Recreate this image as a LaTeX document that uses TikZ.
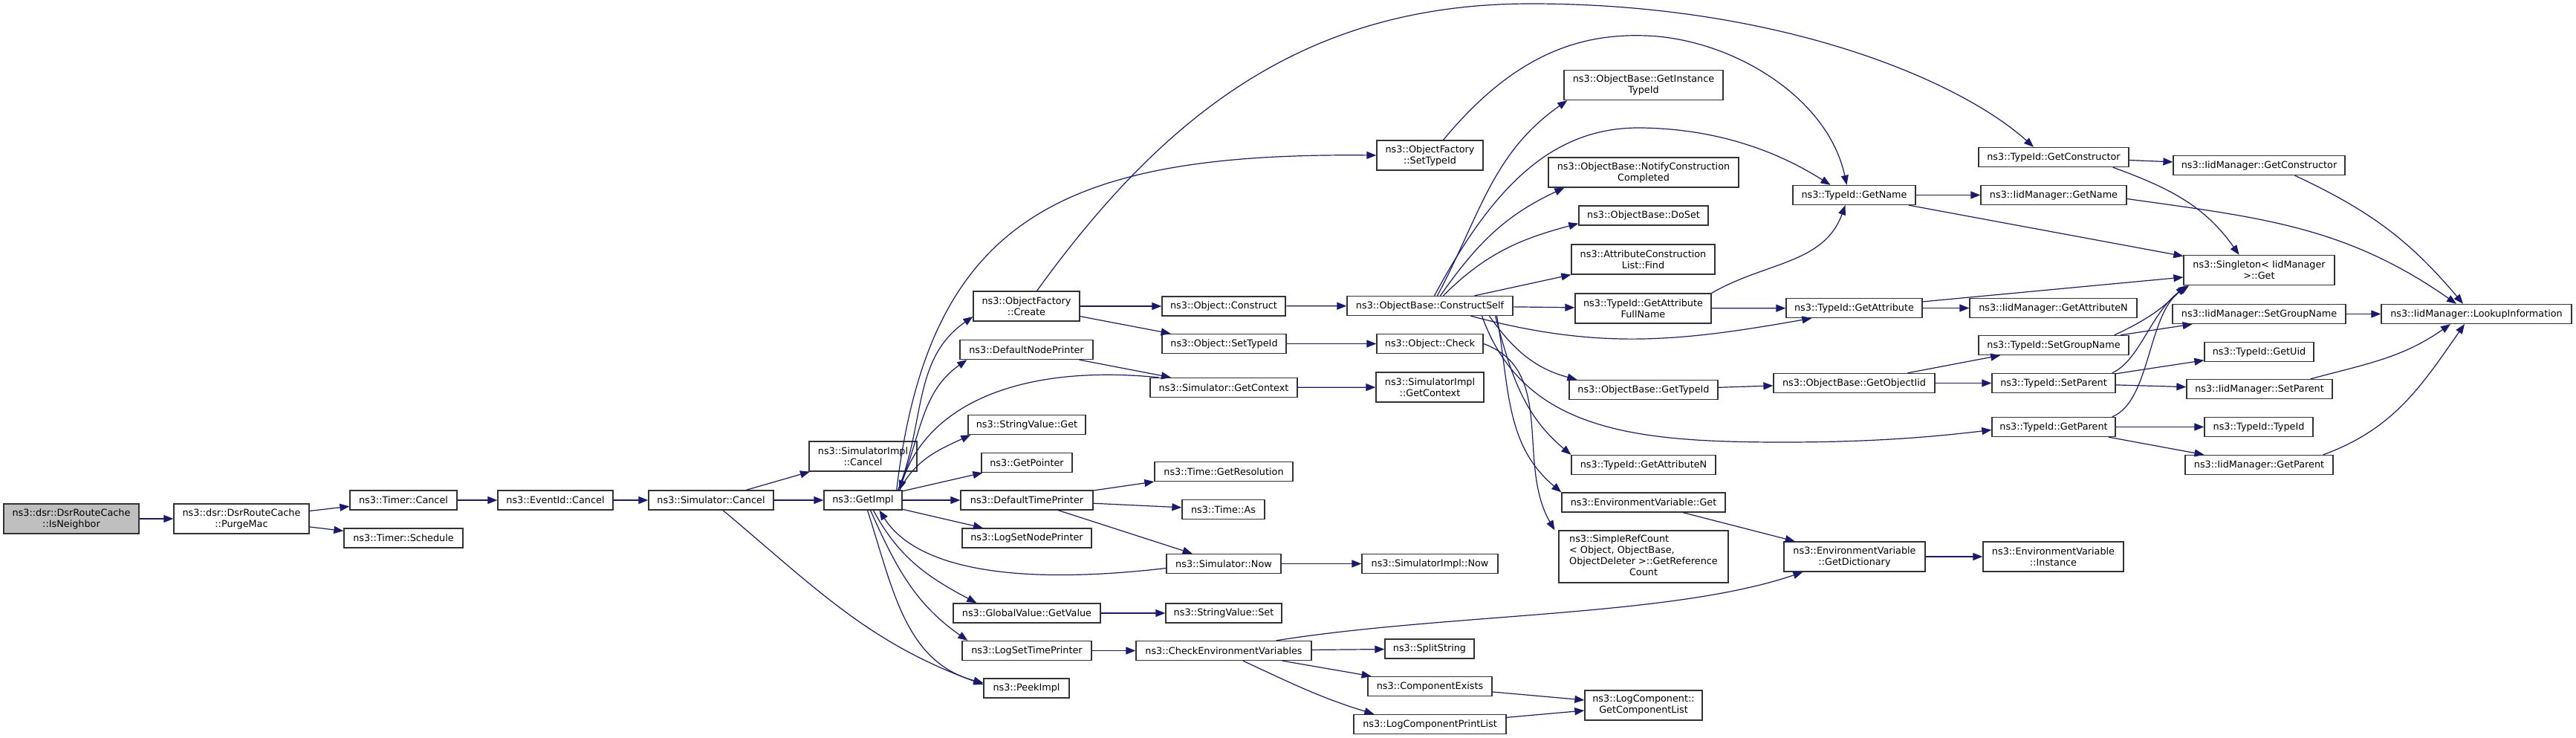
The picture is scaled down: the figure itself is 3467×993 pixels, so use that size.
\documentclass[tikz,border=0pt]{standalone}
\usepackage{fontspec}
\newfontfamily\dejavu{DejaVu Sans}
\usetikzlibrary{arrows.meta}
\definecolor{edgeblue}{RGB}{25,25,112}
\definecolor{boxgray}{RGB}{191,191,191}
\newcommand*{\fnfont}{\dejavu\fontsize{12.8}{15}\selectfont}

\begin{document}
\begin{tikzpicture}[x=1pt, y=1pt, >={Triangle[length=13pt,width=10pt]},
    fn/.style={draw=black!80, line width=1.3pt, fill=white, inner sep=0pt,
      minimum height=26pt, align=center, font=\fnfont},
    bw/.style={minimum width=#1pt},
    two/.style={minimum height=40pt},
    every edge/.style={draw=edgeblue, line width=1.2pt},
    call/.style={draw=edgeblue, line width=1.2pt}]
  \useasboundingbox (0,0) rectangle (3467,-993);

  % caller chain
  \node[fn, bw=182, two, fill=boxgray] (isn) at (96,-698) {ns3::dsr::DsrRouteCache\\::IsNeighbor};
  \node[fn, bw=182, two] (purge) at (325,-698) {ns3::dsr::DsrRouteCache\\::PurgeMac};
  \node[fn, bw=144] (tcancel) at (543,-673) {ns3::Timer::Cancel};
  \node[fn, bw=160] (tsched) at (543,-724) {ns3::Timer::Schedule};
  \node[fn, bw=155] (evcancel) at (747.5,-673) {ns3::EventId::Cancel};
  \node[fn, bw=168] (simcancel) at (957,-673) {ns3::Simulator::Cancel};
  \node[fn, bw=145, two] (implcancel) at (1161.5,-614) {ns3::SimulatorImpl\\::Cancel};
  \node[fn, bw=105] (getimpl) at (1161.5,-673) {ns3::GetImpl};

  % callees of GetImpl
  \node[fn, bw=143, two] (ofcreate) at (1381.5,-412) {ns3::ObjectFactory\\::Create};
  \node[fn, bw=179] (dnp) at (1381.5,-470.5) {ns3::DefaultNodePrinter};
  \node[fn, bw=158] (svget) at (1382,-571.5) {ns3::StringValue::Get};
  \node[fn, bw=122] (getptr) at (1382,-622.5) {ns3::GetPointer};
  \node[fn, bw=178] (dtp) at (1382,-673) {ns3::DefaultTimePrinter};
  \node[fn, bw=174] (lsnp) at (1382,-724) {ns3::LogSetNodePrinter};
  \node[fn, bw=198] (gvget) at (1382,-825) {ns3::GlobalValue::GetValue};
  \node[fn, bw=174] (lstp) at (1382,-875.5) {ns3::LogSetTimePrinter};
  \node[fn, bw=115] (peek) at (1381.5,-926) {ns3::PeekImpl};

  \node[fn, bw=166] (oconstruct) at (1647,-412) {ns3::Object::Construct};
  \node[fn, bw=167] (osettid) at (1647.5,-462.5) {ns3::Object::SetTypeId};
  \node[fn, bw=198] (simctx) at (1647,-521.5) {ns3::Simulator::GetContext};
  \node[fn, bw=186] (tres) at (1647,-634.5) {ns3::Time::GetResolution};
  \node[fn, bw=111] (tas) at (1646.5,-685.5) {ns3::Time::As};
  \node[fn, bw=154] (simnow) at (1647,-758.5) {ns3::Simulator::Now};
  \node[fn, bw=156] (svset) at (1647,-825) {ns3::StringValue::Set};
  \node[fn, bw=236] (checkenv) at (1647,-875.5) {ns3::CheckEnvironmentVariables};

  \node[fn, bw=143, two] (ofsettid) at (1924.5,-209) {ns3::ObjectFactory\\::SetTypeId};
  \node[fn, bw=223] (cself) at (1924.5,-411.5) {ns3::ObjectBase::ConstructSelf};
  \node[fn, bw=143] (ocheck) at (1924.5,-462.5) {ns3::Object::Check};
  \node[fn, bw=145, two] (implctx) at (1924.5,-521) {ns3::SimulatorImpl\\::GetContext};
  \node[fn, bw=183] (implnow) at (1924.5,-758.5) {ns3::SimulatorImpl::Now};
  \node[fn, bw=120] (split) at (1924,-873) {ns3::SplitString};
  \node[fn, bw=167] (compex) at (1924.5,-923.5) {ns3::ComponentExists};
  \node[fn, bw=205] (lcpl) at (1924.5,-974.5) {ns3::LogComponentPrintList};

  % object construction
  \node[fn, bw=214, two] (instid) at (2212,-114.5) {ns3::ObjectBase::GetInstance\\TypeId};
  \node[fn, bw=256, two] (notify) at (2212,-232) {ns3::ObjectBase::NotifyConstruction\\Completed};
  \node[fn, bw=174] (doset) at (2212,-290) {ns3::ObjectBase::DoSet};
  \node[fn, bw=193, two] (acfind) at (2211.5,-349) {ns3::AttributeConstruction\\List::Find};
  \node[fn, bw=183, two] (gafull) at (2211.5,-415) {ns3::TypeId::GetAttribute\\FullName};
  \node[fn, bw=200] (obgettid) at (2212,-524.5) {ns3::ObjectBase::GetTypeId};
  \node[fn, bw=194] (tgetattrn) at (2212,-625.5) {ns3::TypeId::GetAttributeN};
  \node[fn, bw=220] (envget) at (2212,-676) {ns3::EnvironmentVariable::Get};
  \node[fn, bw=228, minimum height=70pt] (refcount) at (2212,-749) {\begin{tabular}{@{}l@{}}ns3::SimpleRefCount\\< Object, ObjectBase,\\\multicolumn{1}{@{}c@{}}{ObjectDeleter >::GetReference}\\\multicolumn{1}{@{}c@{}}{Count}\end{tabular}};
  \node[fn, bw=158, two] (getcomplist) at (2212,-949) {ns3::LogComponent::\\GetComponentList};

  \node[fn, bw=165] (tgetname) at (2495.5,-262.5) {ns3::TypeId::GetName};
  \node[fn, bw=183] (tgetattr) at (2495.5,-414.5) {ns3::TypeId::GetAttribute};
  \node[fn, bw=217] (getoiid) at (2495.5,-515.5) {ns3::ObjectBase::GetObjectIid};
  \node[fn, bw=190, two] (getdict) at (2496,-749) {ns3::EnvironmentVariable\\::GetDictionary};

  \node[fn, bw=202] (tgetctor) at (2764,-211.5) {ns3::TypeId::GetConstructor};
  \node[fn, bw=196] (iidgetname) at (2764,-262.5) {ns3::IidManager::GetName};
  \node[fn, bw=225] (iidgetattrn) at (2763.5,-414.5) {ns3::IidManager::GetAttributeN};
  \node[fn, bw=202] (tsetgroup) at (2764,-464.5) {ns3::TypeId::SetGroupName};
  \node[fn, bw=166] (tsetparent) at (2764,-515.5) {ns3::TypeId::SetParent};
  \node[fn, bw=166] (tgetparent) at (2764,-574.5) {ns3::TypeId::GetParent};
  \node[fn, bw=189, two] (envinst) at (2763.5,-749) {ns3::EnvironmentVariable\\::Instance};

  % iid manager
  \node[fn, bw=231] (iidgetctor) at (3040.5,-222.5) {ns3::IidManager::GetConstructor};
  \node[fn, bw=203, two] (singleton) at (3040.5,-363.5) {ns3::Singleton< IidManager\\>::Get};
  \node[fn, bw=233] (iidsetgroup) at (3040.5,-422.5) {ns3::IidManager::SetGroupName};
  \node[fn, bw=147] (tgetuid) at (3040.5,-473.5) {ns3::TypeId::GetUid};
  \node[fn, bw=196] (iidsetparent) at (3041,-523.5) {ns3::IidManager::SetParent};
  \node[fn, bw=146] (ttypeid) at (3040,-574.5) {ns3::TypeId::TypeId};
  \node[fn, bw=199] (iidgetparent) at (3040.5,-625.5) {ns3::IidManager::GetParent};
  \node[fn, bw=256] (lookup) at (3333,-422.5) {ns3::IidManager::LookupInformation};

  % calls
  \path[->]
    (isn) edge (purge)
    (purge) edge (tcancel)
    (purge) edge (tsched)
    (tcancel) edge (evcancel)
    (evcancel) edge (simcancel)
    (simcancel) edge (implcancel)
    (simcancel) edge (getimpl)
    ([xshift=16pt]simcancel.south) edge[out=-40,in=160] ([yshift=5pt]peek.west)
    (getimpl) edge (getptr)
    (getimpl) edge (dtp)
    (getimpl) edge (lsnp)
    ([xshift=-6pt]getimpl.north east) edge[out=68,in=215] ([yshift=-14pt]ofcreate.west)
    ([xshift=-6pt]getimpl.north east) edge[out=66,in=215] ([xshift=10pt]dnp.south west)
    ([xshift=-4pt]getimpl.north east) edge[out=62,in=205] ([xshift=4pt]svget.south west)
    ([xshift=14pt]getimpl.south) edge[out=-62,in=152] ([xshift=32pt]gvget.north west)
    ([xshift=10pt]getimpl.south) edge[out=-66,in=145] ([xshift=8pt]lstp.north west)
    ([xshift=6pt]getimpl.south) edge[out=-72,in=165] ([yshift=7pt]peek.west)
    (dnp) edge (simctx)
    (simctx) edge (implctx)
    (dtp) edge (tres)
    (dtp) edge (tas)
    (dtp) edge (simnow)
    (simnow) edge (implnow)
    (gvget) edge (svset)
    (lstp) edge (checkenv)
    (checkenv) edge (split)
    (checkenv) edge (compex)
    ([xshift=26pt]checkenv.south) edge[out=-25,in=163] ([xshift=28pt]lcpl.north west)
    (compex) edge (getcomplist)
    (lcpl) edge (getcomplist)
    (envget) edge (getdict)
    (getdict) edge (envinst)
    (ofcreate) edge (oconstruct)
    (ofcreate) edge (osettid)
    (oconstruct) edge (cself)
    (osettid) edge (ocheck)
    ([xshift=10pt]cself.north) edge[out=62,in=215] ([xshift=5pt]instid.south west)
    ([xshift=14pt]cself.north) edge[out=55,in=205] ([xshift=22pt]notify.south west)
    ([xshift=18pt]cself.north) edge[out=45,in=195] ([yshift=3pt]doset.south west)
    ([xshift=60pt]cself.north) edge (acfind.south west)
    (cself) edge (gafull)
    ([xshift=55pt]cself.south) edge[out=-15,in=190] ([xshift=35pt]tgetattr.south west)
    ([xshift=80pt]cself.south) edge[out=-55,in=165] ([xshift=11pt]obgettid.north west)
    ([xshift=88pt]cself.south) edge[out=-75,in=140] (tgetattrn.north west)
    ([xshift=90pt]cself.south) edge[out=-80,in=140] (envget.north west)
    (ocheck.east) edge[out=-20,in=120] ([xshift=-5pt]refcount.north west)
    (gafull.north east) edge[out=30,in=-110] ([xshift=-12pt]tgetname.south)
    (gafull) edge (tgetattr)
    (obgettid) edge (getoiid)
    (getoiid) edge (tsetgroup)
    (getoiid) edge (tsetparent)
    (tgetname) edge (iidgetname)
    (tgetname) edge (singleton)
    (tgetctor) edge (iidgetctor)
    ([xshift=-22pt]tgetctor.south east) edge[out=-20,in=125] ([xshift=-27pt]singleton.north)
    ([xshift=48pt]iidgetctor.south) edge[out=-25,in=130] ([xshift=-18pt]lookup.north)
    ([yshift=-5pt]iidgetname.east) edge[out=-8,in=145] ([xshift=-27pt]lookup.north)
    (tgetattr) edge (singleton)
    (tgetattr) edge (iidgetattrn)
    ([xshift=-20pt]tsetgroup.north east) edge[out=25,in=225] ([xshift=3pt]singleton.south west)
    (tsetgroup) edge (iidsetgroup)
    (iidsetgroup) edge (lookup)
    (tsetparent) edge (tgetuid)
    (tsetparent) edge (iidsetparent)
    (tgetparent) edge (ttypeid)
    (tgetparent) edge (iidgetparent)
    ([xshift=-30pt]iidsetparent.north east) edge[out=15,in=215] ([xshift=-35pt]lookup.south)
    ([xshift=-14pt]iidgetparent.north east) edge[out=20,in=235] ([xshift=-16pt]lookup.south);

  % long calls and back calls
  \draw[->, call] ([xshift=-8pt]getimpl.north east) .. controls (1250,-300) and (1420,-205) .. (ofsettid.west);
  \draw[->, call] ([xshift=12pt]simctx.north west) .. controls (1380,-490) and (1250,-540) .. ([xshift=-4pt]getimpl.north east);
  \draw[->, call] ([yshift=-6pt]simnow.west) .. controls (1350,-790) and (1230,-760) .. ([xshift=22pt]getimpl.south);
  \draw[->, call] ([xshift=-48pt]checkenv.north east) .. controls (1950,-825) and (2250,-830) .. ([xshift=26pt]getdict.south west);
  \draw[->, call] ([xshift=14pt]ofcreate.north) .. controls (1570,-150) and (1760,-5) .. (2060,-5)
    .. controls (2400,-5) and (2640,-110) .. ([xshift=-27pt]tgetctor.north);
  \draw[->, call] ([xshift=18pt]ofsettid.north) .. controls (2040,-70) and (2130,-45) .. (2215,-48)
    .. controls (2330,-52) and (2460,-130) .. ([xshift=-10pt]tgetname.north);
  \draw[->, call] ([xshift=6pt]cself.north) .. controls (2010,-250) and (2090,-170) .. (2210,-172)
    .. controls (2330,-174) and (2410,-215) .. ([xshift=-32pt]tgetname.north);
  \draw[->, call] ([xshift=70pt]cself.south) .. controls (2050,-580) and (2200,-595) .. (2400,-595)
    .. controls (2520,-595) and (2600,-588) .. ([yshift=-4pt]tgetparent.west);
  \draw[->, call] ([xshift=-5pt]tsetparent.north east) .. controls (2880,-485) and (2895,-420) .. ([xshift=6pt]singleton.south west);
  \draw[->, call] ([xshift=-5pt]tgetparent.north east) .. controls (2895,-540) and (2890,-420) .. ([xshift=8pt]singleton.south west);
\end{tikzpicture}
\end{document}
